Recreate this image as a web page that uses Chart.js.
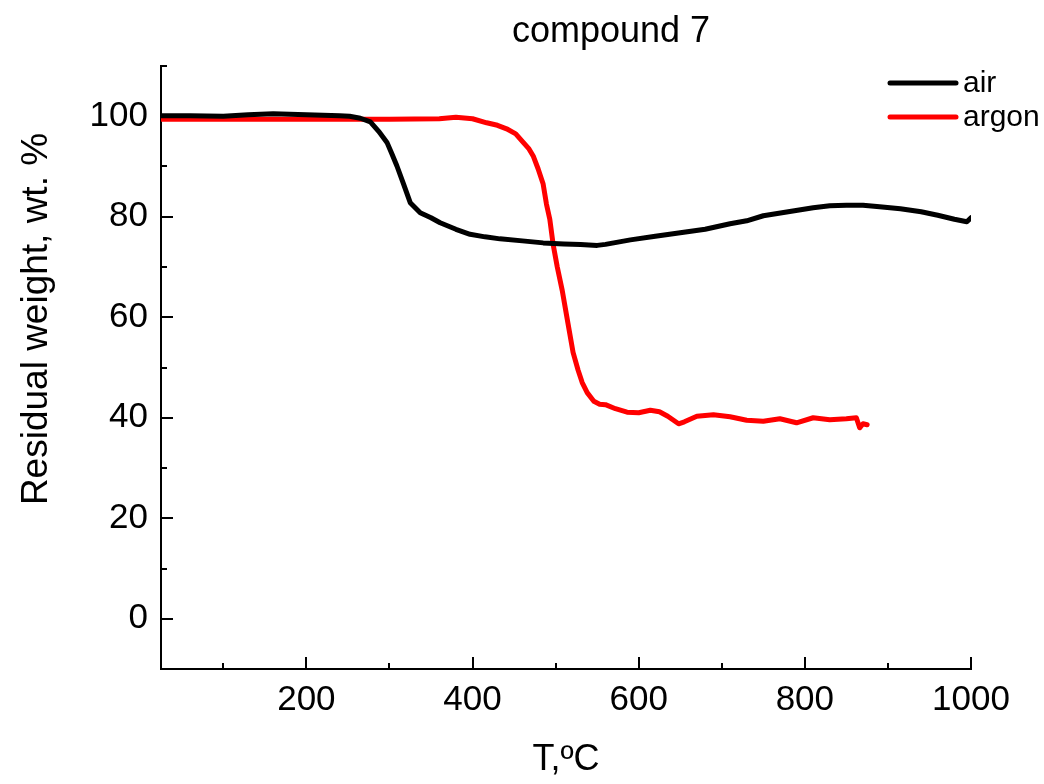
<!DOCTYPE html>
<html>
<head>
<meta charset="utf-8">
<script src="https://cdn.jsdelivr.net/npm/chart.js@4.4.1/dist/chart.umd.min.js"></script>
<style>
  html, body { margin: 0; padding: 0; background: #fff; }
  #wrap { width: 1044px; height: 784px; }
</style>
</head>
<body>
<div id="wrap"><canvas id="tga" width="1044" height="784"></canvas></div>
<script>
// TGA de compound 7: masa residual frente a temperatura
const TITULO = 'compound 7';
const SERIES = ['air', 'argon'];
const COLORES = ['#000000', '#ff0000'];

const AIR_T = [25, 60, 100, 130, 160, 200, 240, 252, 265, 277, 287, 297, 303, 309, 317, 325, 337, 350, 361, 380, 397, 415, 433, 460, 485, 510, 530, 550, 560, 590, 620, 650, 680, 710, 730, 750, 780, 810, 830, 850, 870, 890, 915, 940, 960, 980, 995, 1000];
const AIR_W = [100.1, 100.1, 100.0, 100.3, 100.5, 100.3, 100.1, 100.0, 99.6, 98.9, 97.0, 94.8, 92.5, 90.1, 86.5, 82.8, 80.8, 79.8, 78.8, 77.5, 76.5, 76.0, 75.6, 75.2, 74.8, 74.6, 74.5, 74.3, 74.5, 75.4, 76.1, 76.8, 77.5, 78.6, 79.2, 80.2, 81.0, 81.8, 82.2, 82.3, 82.3, 82.0, 81.6, 81.0, 80.3, 79.5, 79.0, 79.8];

const ARGON_T = [25, 100, 200, 300, 360, 380, 400, 417, 430, 441, 452, 461, 468, 473, 479, 485, 489, 493, 497, 502, 508, 514, 521, 527, 532, 538, 546, 553, 560, 572, 586, 600, 614, 625, 635, 648, 655, 670, 690, 710, 730, 750, 770, 790, 810, 830, 850, 862, 866, 870, 875];
const ARGON_W = [99.4, 99.4, 99.4, 99.4, 99.5, 99.8, 99.5, 98.7, 98.2, 97.5, 96.5, 94.8, 93.5, 92.1, 89.5, 86.5, 82.5, 79.5, 74.5, 70.0, 65.3, 59.6, 53.0, 49.5, 47.0, 45.0, 43.3, 42.7, 42.6, 41.8, 41.1, 41.0, 41.5, 41.2, 40.3, 38.8, 39.2, 40.3, 40.6, 40.2, 39.5, 39.3, 39.8, 39.0, 40.0, 39.6, 39.8, 40.0, 38.0, 38.8, 38.6];

const X_TICKS = [200, 400, 600, 800, 1000];
const X_MENORES = [100, 300, 500, 700, 900];
const Y_TICKS = [0, 20, 40, 60, 80, 100];
const Y_MENORES = [-10, 10, 30, 50, 70, 90, 110];

const FUENTE = 'Arial, "Liberation Sans", sans-serif';

function puntos(xs, ys) {
  return xs.map((x, i) => ({ x, y: ys[i] }));
}

// marcas de eje hacia dentro, como en Origin
const pluginMarcas = {
  id: 'pluginMarcas',
  afterDraw(chart) {
    const { ctx, chartArea, scales } = chart;
    const { left, bottom } = chartArea;
    ctx.save();
    ctx.strokeStyle = '#000';
    ctx.lineWidth = 2;
    ctx.beginPath();
    X_TICKS.forEach((v) => {
      const x = Math.round(scales.x.getPixelForValue(v));
      ctx.moveTo(x, bottom);
      ctx.lineTo(x, bottom - 12);
    });
    X_MENORES.forEach((v) => {
      const x = Math.round(scales.x.getPixelForValue(v));
      ctx.moveTo(x, bottom);
      ctx.lineTo(x, bottom - 6);
    });
    Y_TICKS.forEach((v) => {
      const y = Math.round(scales.y.getPixelForValue(v));
      ctx.moveTo(left, y);
      ctx.lineTo(left + 12, y);
    });
    Y_MENORES.forEach((v) => {
      const y = Math.round(scales.y.getPixelForValue(v));
      ctx.moveTo(left, y);
      ctx.lineTo(left + 6, y);
    });
    ctx.stroke();
    ctx.restore();
  },
};

// título, título del eje Y y leyenda dentro del área
const pluginTextos = {
  id: 'pluginTextos',
  afterDraw(chart) {
    const { ctx } = chart;
    ctx.save();
    ctx.fillStyle = '#000';
    ctx.font = '36px ' + FUENTE;
    ctx.textAlign = 'center';
    ctx.textBaseline = 'alphabetic';
    ctx.fillText(TITULO, 611, 42);

    ctx.save();
    ctx.translate(47, 319);
    ctx.rotate(-Math.PI / 2);
    ctx.font = '37px ' + FUENTE;
    ctx.fillText('Residual weight, wt. %', 0, 0);
    ctx.restore();

    ctx.font = '30px ' + FUENTE;
    ctx.textAlign = 'left';
    ctx.lineCap = 'round';
    ctx.lineWidth = 5;
    const filas = [92, 126];
    SERIES.forEach((nombre, i) => {
      const yl = filas[i] - 9;
      ctx.strokeStyle = COLORES[i];
      ctx.beginPath();
      ctx.moveTo(890, yl);
      ctx.lineTo(956, yl);
      ctx.stroke();
      ctx.fillText(nombre, 963, filas[i]);
    });
    ctx.restore();
  },
};

new Chart(document.getElementById('tga'), {
  type: 'line',
  data: {
    datasets: [
      { label: SERIES[0], data: puntos(AIR_T, AIR_W), borderColor: COLORES[0] },
      { label: SERIES[1], data: puntos(ARGON_T, ARGON_W), borderColor: COLORES[1] },
    ],
  },
  options: {
    responsive: false,
    animation: false,
    devicePixelRatio: 1,
    layout: { padding: { top: 66, right: 73, bottom: 0, left: 0 } },
    elements: {
      point: { radius: 0 },
      line: { borderWidth: 5, tension: 0, borderJoinStyle: 'round', borderCapStyle: 'round' },
    },
    scales: {
      x: {
        type: 'linear',
        min: 25,
        max: 1000,
        grid: { display: false, drawTicks: false },
        border: { display: true, color: '#000', width: 2 },
        afterBuildTicks: (s) => { s.ticks = X_TICKS.map((v) => ({ value: v })); },
        afterFit: (s) => { s.height = 115; },
        ticks: { color: '#000', font: { family: FUENTE, size: 35 }, padding: 10, maxRotation: 0, callback: (v) => String(v) },
        title: { display: true, text: 'T,\u00baC', color: '#000', font: { family: FUENTE, size: 36 }, padding: { top: 0, bottom: 2 } },
      },
      y: {
        type: 'linear',
        min: -10,
        max: 110,
        grid: { display: false, drawTicks: false },
        border: { display: true, color: '#000', width: 2 },
        afterBuildTicks: (s) => { s.ticks = Y_TICKS.map((v) => ({ value: v })); },
        afterFit: (s) => { s.width = 161; },
        ticks: { color: '#000', font: { family: FUENTE, size: 35 }, padding: 13, callback: (v) => String(v) },
      },
    },
    plugins: {
      legend: { display: false },
      title: { display: false },
      tooltip: { enabled: false },
    },
  },
  plugins: [pluginMarcas, pluginTextos],
});
</script>
</body>
</html>
